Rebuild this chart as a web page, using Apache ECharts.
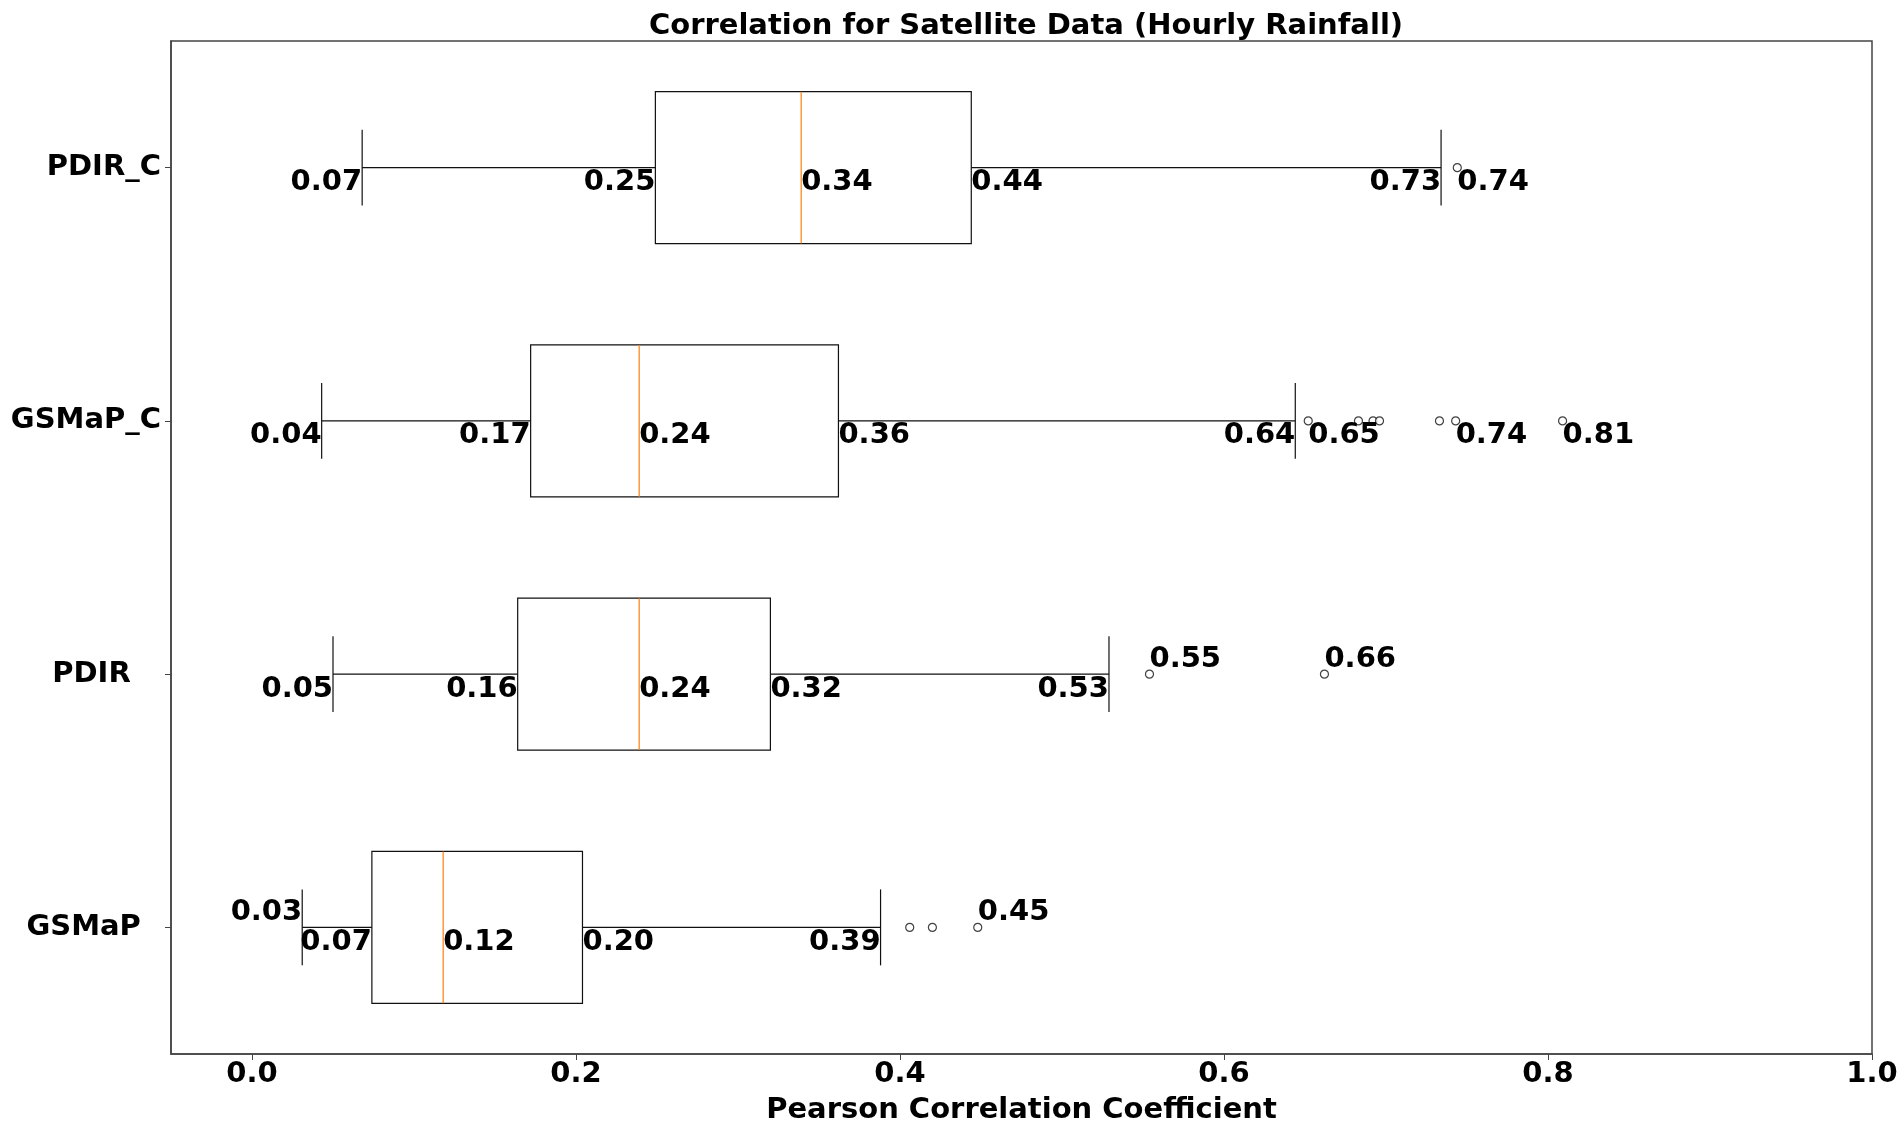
<!DOCTYPE html>
<html>
<head>
<meta charset="utf-8">
<title>Correlation for Satellite Data (Hourly Rainfall)</title>
<script src="https://cdn.jsdelivr.net/npm/echarts@6/dist/echarts.min.js"></script>
<style>
  html, body { margin: 0; padding: 0; background: #fff; }
  #chart { width: 1899px; height: 1128px; }
</style>
</head>
<body>
<div id="chart"></div>
<script>
// categories, bottom to top (as in the original plot)
const categories = ['GSMaP', 'PDIR', 'GSMaP_C', 'PDIR_C']
// box statistics, one value per category
const whiskerLow = [0.031, 0.050, 0.043, 0.068]
const q1 = [0.074, 0.164, 0.172, 0.249]
const median = [0.118, 0.239, 0.239, 0.339]
const q3 = [0.204, 0.320, 0.362, 0.444]
const whiskerHigh = [0.388, 0.529, 0.644, 0.734]
// outliers per category
const fliers = [
  [0.406, 0.420, 0.448],
  [0.554, 0.662],
  [0.652, 0.683, 0.692, 0.696, 0.733, 0.743, 0.809],
  [0.744],
]
// outliers that carry a value label
const labelledFliers = [
  [0.448],
  [0.554, 0.662],
  [0.652, 0.743, 0.809],
  [0.744],
]
const xTicks = [0, 0.2, 0.4, 0.6, 0.8, 1.0]

// label placement (style only)
const fliersLabelAbove = [true, true, false, false]
const lowLabelAbove = [true, false, false, false]
const trailingSpaces = { PDIR: 3, GSMaP: 2 }

const FONT = 'DejaVu Sans'
const FS = 29

const boxData = categories.map((c, i) => [i, whiskerLow[i], q1[i], median[i], q3[i], whiskerHigh[i]])
const flierData = []
fliers.forEach((arr, i) => arr.forEach((v) => flierData.push([v, categories[i]])))
const flierLabelData = []
labelledFliers.forEach((arr, i) => arr.forEach((v) => flierLabelData.push([i, v])))

function txt(x, y, value, align, above) {
  return {
    type: 'text',
    x: x,
    y: above ? y - 15 : y + 15,
    z2: 10,
    style: {
      text: value.toFixed(2),
      fontFamily: FONT,
      fontSize: FS,
      fontWeight: 'bold',
      fill: '#000',
      align: align,
      verticalAlign: 'middle',
    },
  }
}

function renderBox(params, api) {
  const cat = api.value(0)
  const pLow = api.coord([api.value(1), cat])
  const pQ1 = api.coord([api.value(2), cat])
  const pMed = api.coord([api.value(3), cat])
  const pQ3 = api.coord([api.value(4), cat])
  const pHigh = api.coord([api.value(5), cat])
  const band = api.size([0, 1])[1]
  const y = pMed[1]
  const bh = band * 0.6
  const ch = band * 0.3
  const ls = { stroke: '#111', lineWidth: 1.2 }
  const line = (x1, y1, x2, y2, style) => ({ type: 'line', shape: { x1, y1, x2, y2 }, style: style || ls })
  return {
    type: 'group',
    children: [
      line(pLow[0], y, pQ1[0], y),
      line(pQ3[0], y, pHigh[0], y),
      line(pLow[0], y - ch / 2, pLow[0], y + ch / 2),
      line(pHigh[0], y - ch / 2, pHigh[0], y + ch / 2),
      {
        type: 'rect',
        shape: { x: pQ1[0], y: y - bh / 2, width: pQ3[0] - pQ1[0], height: bh },
        style: { fill: 'none', stroke: '#111', lineWidth: 1.2 },
      },
      line(pMed[0], y - bh / 2, pMed[0], y + bh / 2, { stroke: '#ff7f0e', lineWidth: 1.2 }),
      txt(pLow[0], y, api.value(1), 'right', lowLabelAbove[cat]),
      txt(pQ1[0], y, api.value(2), 'right', false),
      txt(pMed[0], y, api.value(3), 'left', false),
      txt(pQ3[0], y, api.value(4), 'left', false),
      txt(pHigh[0], y, api.value(5), 'right', false),
    ],
  }
}

function renderFlierLabel(params, api) {
  const cat = api.value(0)
  const p = api.coord([api.value(1), cat])
  return txt(p[0], p[1], api.value(1), 'left', fliersLabelAbove[cat])
}

const chart = echarts.init(document.getElementById('chart'))
const option = {
  animation: false,
  backgroundColor: '#fff',
  textStyle: { fontFamily: FONT },
  title: {
    text: 'Correlation for Satellite Data (Hourly Rainfall)',
    left: 1021,
    textAlign: 'center',
    top: 7,
    textStyle: { fontFamily: FONT, fontSize: FS, fontWeight: 'bold', color: '#000' },
  },
  grid: {
    left: 171,
    right: 27,
    top: 41,
    bottom: 74,
    outerBoundsMode: 'none',
    containLabel: false,
    show: true,
    borderColor: '#444',
    borderWidth: 1.5,
  },
  xAxis: {
    type: 'value',
    min: -0.05,
    max: 1.0,
    name: 'Pearson Correlation Coefficient',
    nameLocation: 'middle',
    nameGap: 42,
    nameTextStyle: { fontFamily: FONT, fontSize: FS, fontWeight: 'bold', color: '#000' },
    axisLine: { show: true, lineStyle: { color: '#444', width: 1.5 } },
    axisTick: { show: true, length: 6, lineStyle: { color: '#444' }, customValues: xTicks },
    axisLabel: {
      customValues: xTicks,
      formatter: (v) => v.toFixed(1),
      fontFamily: FONT,
      fontSize: FS,
      fontWeight: 'bold',
      color: '#000',
      margin: 6,
    },
    splitLine: { show: false },
  },
  yAxis: {
    type: 'category',
    data: categories,
    axisLine: { show: true, onZero: false, lineStyle: { color: '#444', width: 1.5 } },
    axisTick: { show: true, alignWithLabel: true, length: 6, lineStyle: { color: '#444' } },
    axisLabel: {
      formatter: (v) => v + ' '.repeat(trailingSpaces[v] || 0),
      fontFamily: FONT,
      fontSize: FS,
      fontWeight: 'bold',
      color: '#000',
      margin: 10,
    },
    splitLine: { show: false },
  },
  series: [
    {
      type: 'custom',
      name: 'box',
      renderItem: renderBox,
      encode: { x: [1, 2, 3, 4, 5], y: 0 },
      data: boxData,
      clip: false,
    },
    {
      type: 'scatter',
      name: 'fliers',
      symbol: 'circle',
      symbolSize: 8,
      itemStyle: { color: '#fff', borderColor: '#111', borderWidth: 1.2 },
      data: flierData,
      z: 3,
    },
    {
      type: 'custom',
      name: 'flier labels',
      renderItem: renderFlierLabel,
      encode: { x: 1, y: 0 },
      data: flierLabelData,
      z: 4,
    },
  ],
}
chart.setOption(option)
window.addEventListener('resize', function () {
  chart.resize()
})
</script>
</body>
</html>
